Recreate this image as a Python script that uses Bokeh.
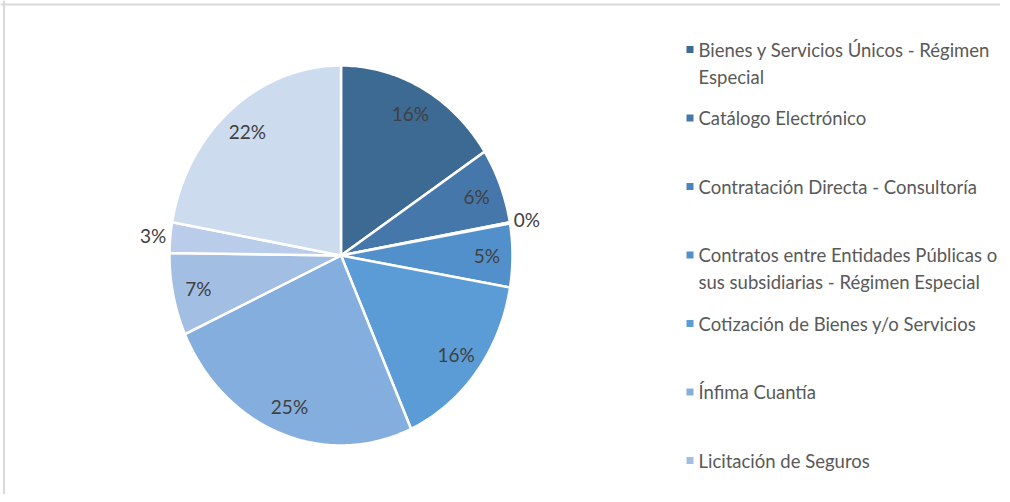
import textwrap
import numpy as np
from bokeh.plotting import figure
from bokeh.models import Range1d, Span
from bokeh.core.properties import value
from bokeh.embed import file_html
from bokeh.resources import INLINE

# ---- data ----
categories = [
    "Bienes y Servicios Únicos - Régimen Especial",
    "Catálogo Electrónico",
    "Contratación Directa -  Consultoría",
    "Contratos entre Entidades Públicas o sus subsidiarias - Régimen Especial",
    "Cotización de Bienes y/o Servicios",
    "Ínfima Cuantía",
    "Licitación de Seguros",
    "Menor Cuantía",
    "Subasta Inversa Electrónica",
]
shares = [15.8, 6.4, 0.1, 5.4, 15.6, 24.9, 7.0, 2.6, 22.2]
colors = ["#3D6A93", "#4677AB", "#4B84BE", "#5290CB", "#5B9BD6",
          "#84AEDE", "#A2BEE3", "#B9CDEA", "#CCDBEE"]
labels = [f"{round(v)}%" for v in shares]

# ---- figure (data units == pixels, y downward) ----
W, H = 1000, 494
p = figure(width=W, height=H, x_range=Range1d(0, W), y_range=Range1d(H, 0),
           output_backend="svg", toolbar_location=None,
           x_axis_type=None, y_axis_type=None, min_border=0,
           outline_line_color=None, background_fill_color="white",
           border_fill_color="white")
p.grid.visible = False

# chart-area border (top / left visible)
p.add_layout(Span(location=4, dimension="width", line_color="#D9D9D9", line_width=2))
p.add_layout(Span(location=3.5, dimension="height", line_color="#D9D9D9", line_width=2))

# ---- pie (elliptical, as in the reference) ----
cx, cy, rx, ry = 340.5, 255.0, 171.5, 190.0
total = float(sum(shares))
fr = np.array(shares) / total
ends = np.cumsum(fr) * 2 * np.pi
starts = ends - fr * 2 * np.pi

xs, ys = [], []
for a0, a1 in zip(starts, ends):
    n = max(3, int((a1 - a0) / (2 * np.pi) * 400))
    t = np.linspace(a0, a1, n)
    xs.append(list(np.concatenate([[cx], cx + rx * np.sin(t)])))
    ys.append(list(np.concatenate([[cy], cy - ry * np.cos(t)])))

p.patches(xs=xs, ys=ys, fill_color=colors, line_color="white", line_width=2.5,
          line_join="miter")

# data labels
mids = (starts + ends) / 2
rr = np.where(np.array(shares) < 4, 1.10, 0.85)
lx = cx + rr * rx * np.sin(mids)
ly = cy - rr * ry * np.cos(mids)
p.text(x=list(lx), y=list(ly), text=labels, text_align="center",
       text_baseline="middle", text_font=value("Lato"), text_font_size="19px",
       text_color="#404040")

# ---- legend (manual, wrapped like the reference; overflow clipped) ----
mx, tx, y0, step, lh = 689.5, 698.0, 49.0, 68.5, 27.0
mk_x, mk_y, mk_c = [], [], []
t_x, t_y, t_t = [], [], []
for i, (name, c) in enumerate(zip(categories, colors)):
    yy = y0 + i * step
    lines = textwrap.wrap(name, 36, replace_whitespace=False)
    if yy + (len(lines) - 1) * lh + 10 > H:
        continue
    mk_x.append(mx); mk_y.append(yy); mk_c.append(c)
    for j, ln in enumerate(lines):
        t_x.append(tx); t_y.append(yy + j * lh); t_t.append(ln)

p.scatter(x=mk_x, y=mk_y, marker="square", size=7, fill_color=mk_c, line_color=None)
p.text(x=t_x, y=t_y, text=t_t, text_align="left", text_baseline="middle",
       text_font=value("Lato"), text_font_size="18.5px", text_color="#595959")

open("out.html", "w").write(file_html(p, INLINE))
